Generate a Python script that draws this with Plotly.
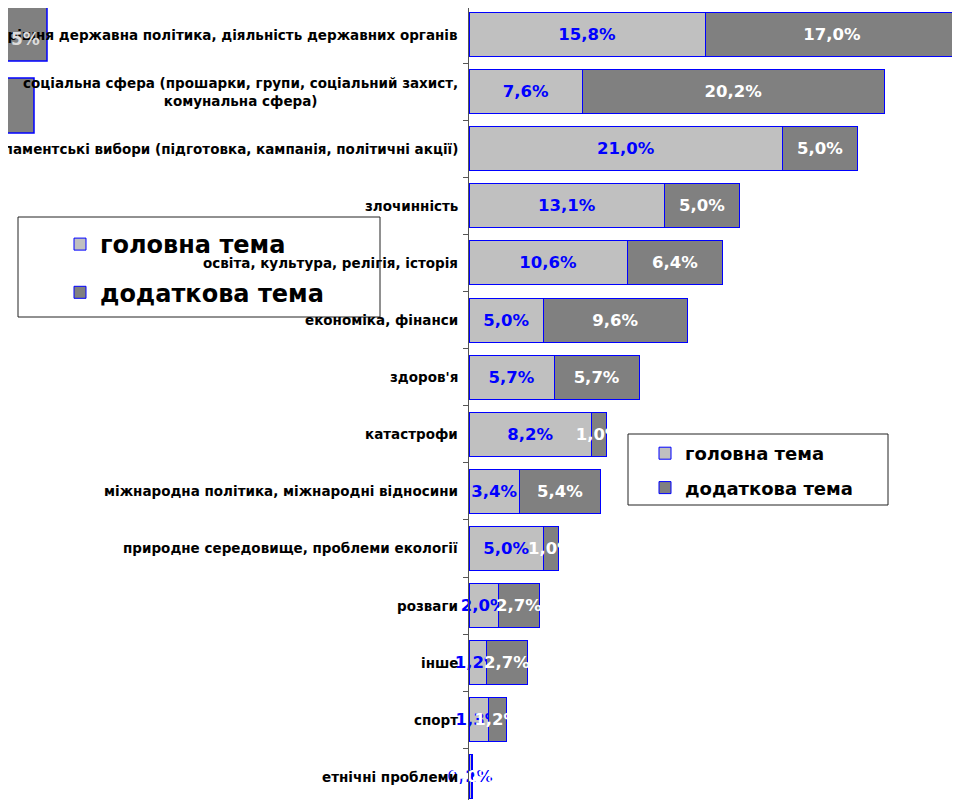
import plotly.graph_objects as go

# data (share of news items, %)
categories = [
    "внутрішня державна політика, діяльність державних органів",
    "соціальна сфера (прошарки, групи, соціальний захист,<br>комунальна сфера)",
    "парламентські вибори (підготовка, кампанія, політичні акції)",
    "злочинність",
    "освіта, культура, релігія, історія",
    "економіка, фінанси",
    "здоров'я",
    "катастрофи",
    "міжнародна політика, міжнародні відносини",
    "природне середовище, проблеми екології",
    "розваги",
    "інше",
    "спорт",
    "етнічні проблеми",
]
main_topic = [15.8, 7.6, 21.0, 13.1, 10.6, 5.0, 5.7, 8.2, 3.4, 5.0, 2.0, 1.2, 1.3, 0.2]
extra_topic = [17.0, 20.2, 5.0, 5.0, 6.4, 9.6, 5.7, 1.0, 5.4, 1.0, 2.7, 2.7, 1.2, 0.03]
series_names = ["головна тема", "додаткова тема"]


def pct(values):
    return [f"{v:.1f}%".replace(".", ",") for v in values]


W, H = 960, 800
OFF = 8  # page body margin: figure starts 8px right/down of the window corner
ML, MR, MT, MB = 469 - OFF, 0, 0, 0
PW, PH = W - ML - MR, H - MT - MB
ROW = 57.1          # px per category slot
TOP = 6 - OFF       # figure y of the first category boundary
FONT = "DejaVu Sans"
LIGHT, DARK, EDGE = "#C0C0C0", "#808080", "#0000FF"


# page pixel -> paper fraction
def px_x(p):
    return (p - OFF - ML) / PW


def px_y(p):
    return (H - MB - (p - OFF)) / PH


fig = go.Figure()

fig.add_trace(go.Bar(
    y=categories, x=main_topic, orientation="h",
    name=series_names[0], legend="legend", legendgroup="a",
    marker=dict(color=LIGHT, line=dict(color=EDGE, width=1)),
    text=pct(main_topic), textposition="inside", insidetextanchor="middle",
    constraintext="none", textangle=0, cliponaxis=False,
    textfont=dict(family=FONT, size=16.5, color=EDGE, weight="bold"),
))
fig.add_trace(go.Bar(
    y=categories, x=extra_topic, orientation="h",
    name=series_names[1], legend="legend", legendgroup="b",
    marker=dict(color=DARK, line=dict(color=EDGE, width=1)),
    text=pct(extra_topic), textposition="inside", insidetextanchor="middle",
    constraintext="none", textangle=0, cliponaxis=False,
    textfont=dict(family=FONT, size=16.5, color="white", weight="bold"),
))

# second (smaller) legend needs its own entries
for name, col, grp in [(series_names[0], LIGHT, "a"), (series_names[1], DARK, "b")]:
    fig.add_trace(go.Bar(
        x=[None], y=[None], orientation="h", name=name,
        legend="legend2", legendgroup=grp,
        marker=dict(color=col, line=dict(color=EDGE, width=1)),
    ))

# category labels (centred multi-line text like the original)
for cat in categories:
    fig.add_annotation(
        x=0, y=cat, xref="x", yref="y", text=cat, showarrow=False,
        xanchor="right", xshift=-9, align="center",
        font=dict(family=FONT, size=13.5, color="black", weight="bold"),
    )

shapes = []
# legend frames
for x0, y0, x1, y1 in [(18, 217, 380, 317), (628, 434, 888, 505)]:
    shapes.append(dict(type="rect", xref="paper", yref="paper",
                       x0=px_x(x0), x1=px_x(x1), y0=px_y(y1), y1=px_y(y0),
                       line=dict(color="#222222", width=1), fillcolor="white",
                       layer="below"))
# clipped leftovers in the top-left corner
for x0, y0, x1, y1 in [(-5, 4, 47, 61), (-5, 78, 34, 133)]:
    shapes.append(dict(type="rect", xref="paper", yref="paper",
                       x0=px_x(x0), x1=px_x(x1), y0=px_y(y1), y1=px_y(y0),
                       line=dict(color=EDGE, width=1.5), fillcolor=DARK,
                       layer="below"))
fig.add_annotation(x=px_x(42), y=px_y(27), xref="paper", yref="paper",
                   text="5%", showarrow=False, xanchor="right",
                   font=dict(family=FONT, size=17, color="#dddddd", weight="bold"))

fig.update_layout(
    width=W, height=H, barmode="stack", bargap=0.23,
    margin=dict(l=ML, r=MR, t=MT, b=MB, autoexpand=False),
    paper_bgcolor="white", plot_bgcolor="white",
    shapes=shapes,
    legend=dict(
        xref="container", yref="container", x=(60 - OFF) / W, y=1 - (222 - OFF) / H,
        xanchor="left", yanchor="top", bgcolor="rgba(0,0,0,0)",
        traceorder="grouped", tracegroupgap=14,
        font=dict(family=FONT, size=24, color="black", weight="bold"),
    ),
    legend2=dict(
        xref="container", yref="container", x=(645 - OFF) / W, y=1 - (435 - OFF) / H,
        xanchor="left", yanchor="top", bgcolor="rgba(0,0,0,0)",
        traceorder="grouped", tracegroupgap=8,
        font=dict(family=FONT, size=18, color="black", weight="bold"),
    ),
    xaxis=dict(range=[0, PW / 14.94], showgrid=False, zeroline=False,
               showline=False, showticklabels=False, ticks=""),
    yaxis=dict(type="category",
               range=[-0.5 + (PH - TOP) / ROW, -0.5 - TOP / ROW],
               showgrid=False,
               showticklabels=False, showline=True, linecolor="#555555",
               linewidth=1, ticks="outside", tickson="boundaries",
               ticklen=5, tickcolor="#555555"),
    showlegend=True,
)

fig.write_html("out.html")
